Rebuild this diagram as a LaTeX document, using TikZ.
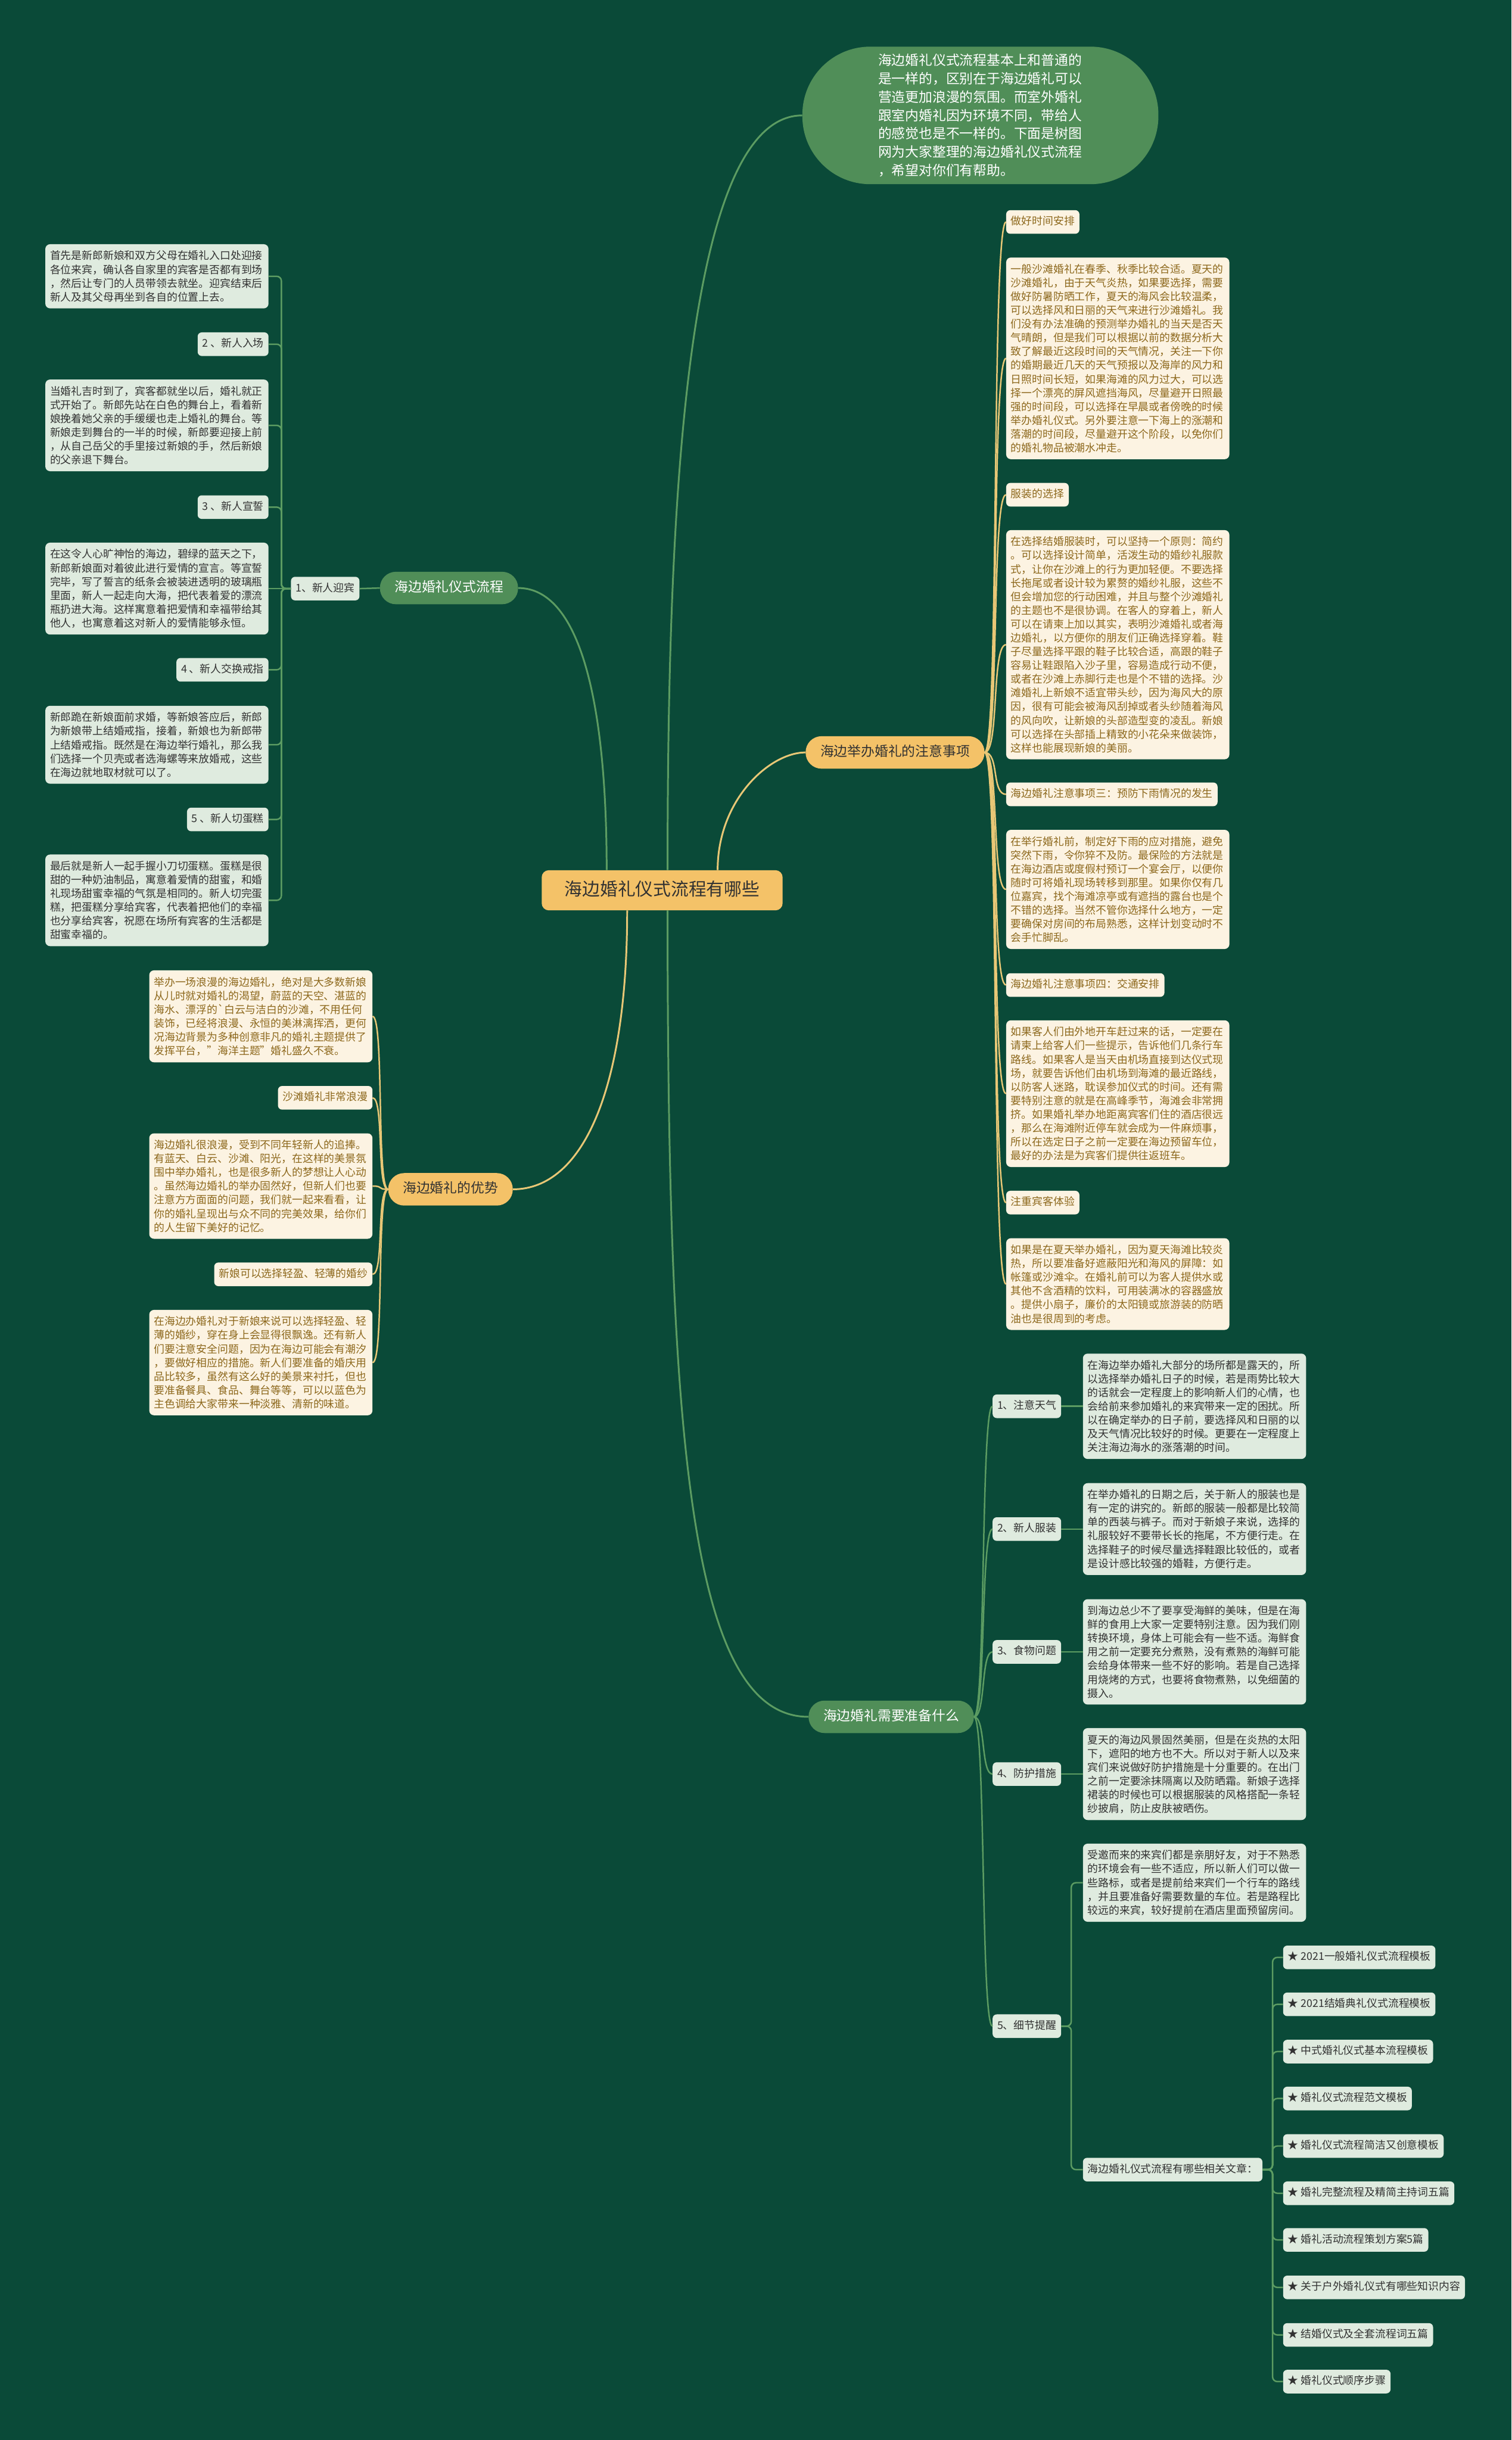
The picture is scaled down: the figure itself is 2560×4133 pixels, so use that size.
\documentclass[tikz,border=0pt]{standalone}
\usepackage{fontspec}
\setmainfont{Noto Sans CJK SC}
\usetikzlibrary{positioning}
\definecolor{bgc}{RGB}{10,74,56}
\definecolor{grn}{RGB}{80,142,88}
\definecolor{lgn}{RGB}{92,156,98}
\definecolor{gld}{RGB}{232,199,118}
\definecolor{orng}{RGB}{244,194,104}
\definecolor{lgrn}{RGB}{223,235,223}
\definecolor{crm}{RGB}{252,243,226}
\definecolor{brn}{RGB}{141,104,28}
\definecolor{dtxt}{RGB}{50,50,50}
\tikzstyle{rootnode} = [fill=orng,rounded corners=12pt,inner xsep=39pt,inner ysep=19pt,text height=24pt,text depth=6pt,font=\fontsize{30pt}{36pt}\selectfont,text=dtxt]
\tikzstyle{greennode} = [fill=grn,rounded corners=27pt,inner xsep=25pt,inner ysep=16pt,text height=18pt,text depth=5pt,font=\fontsize{23pt}{28pt}\selectfont,text=white]
\tikzstyle{orangenode} = [greennode,fill=orng,text=dtxt]
\tikzstyle{intro} = [fill=grn,rounded corners=115pt,minimum width=603pt,minimum height=233pt,text width=346pt,align=left,inner sep=0pt,font=\fontsize{23pt}{31pt}\selectfont,text=white]
\tikzstyle{glabel} = [fill=lgrn,rounded corners=7pt,inner xsep=8pt,inner ysep=11pt,text height=14pt,text depth=4pt,font=\fontsize{18pt}{23.3pt}\selectfont,text=dtxt]
\tikzstyle{clabel} = [glabel,fill=crm,text=brn]
\tikzstyle{gbox} = [fill=lgrn,rounded corners=8pt,inner xsep=8pt,inner ysep=11pt,text width=362pt,align=left,font=\fontsize{18pt}{23.3pt}\selectfont,text=dtxt]
\tikzstyle{cbox} = [gbox,fill=crm,text=brn]
\tikzstyle{glink} = [draw=lgn,line width=2.5pt,rounded corners=8pt]
\tikzstyle{ylink} = [draw=gld,line width=2.5pt]
\tikzstyle{mglink} = [draw=lgn,line width=3pt]
\tikzstyle{mylink} = [draw=gld,line width=3pt]

\begin{document}
\begin{tikzpicture}[x=1pt,y=-1pt]
\fill[bgc] (0,0) rectangle (2560,4133);
\useasboundingbox (0,0) rectangle (2560,4133);

\node[rootnode] (root) at (1121.5,1508) {海边婚礼仪式流程有哪些};
\node[intro] (intro) at (1660.5,195.5) {海边婚礼仪式流程基本上和普通的\\
是一样的，区别在于海边婚礼可以\\
营造更加浪漫的氛围。而室外婚礼\\
跟室内婚礼因为环境不同，带给人\\
的感觉也是不一样的。下面是树图\\
网为大家整理的海边婚礼仪式流程\\
，希望对你们有帮助。};
\node[greennode] (flow) at (760.5,996) {海边婚礼仪式流程};
\node[orangenode] (note) at (1516,1274.5) {海边举办婚礼的注意事项};
\node[orangenode] (adv) at (763,2014.5) {海边婚礼的优势};
\node[greennode] (prep) at (1509.5,2908) {海边婚礼需要准备什么};

\node[glabel,anchor=east] (s1) at (609,997) {1、新人迎宾};
\node[gbox,anchor=east] (a1) at (455,468) {首先是新郎新娘和双方父母在婚礼入口处迎接\\
各位来宾，确认各自家里的宾客是否都有到场\\
，然后让专门的人员带领去就坐。迎宾结束后\\
新人及其父母再坐到各自的位置上去。};
\node[glabel,anchor=east] (s2) at (455,583) {2 、新人入场};
\node[gbox,anchor=east] (a2) at (455,720.5) {当婚礼吉时到了，宾客都就坐以后，婚礼就正\\
式开始了。新郎先站在白色的舞台上，看着新\\
娘挽着她父亲的手缓缓也走上婚礼的舞台。等\\
新娘走到舞台的一半的时候，新郎要迎接上前\\
，从自己岳父的手里接过新娘的手，然后新娘\\
的父亲退下舞台。};
\node[glabel,anchor=east] (s3) at (455,859) {3 、新人宣誓};
\node[gbox,anchor=east] (a3) at (455,997) {在这令人心旷神怡的海边，碧绿的蓝天之下，\\
新郎新娘面对着彼此进行爱情的宣言。等宣誓\\
完毕，写了誓言的纸条会被装进透明的玻璃瓶\\
里面，新人一起走向大海，把代表着爱的漂流\\
瓶扔进大海。这样寓意着把爱情和幸福带给其\\
他人，也寓意着这对新人的爱情能够永恒。};
\node[glabel,anchor=east] (s4) at (455,1134.5) {4 、新人交换戒指};
\node[gbox,anchor=east] (a4) at (455,1261.5) {新郎跪在新娘面前求婚，等新娘答应后，新郎\\
为新娘带上结婚戒指，接着，新娘也为新郎带\\
上结婚戒指。既然是在海边举行婚礼，那么我\\
们选择一个贝壳或者选海螺等来放婚戒，这些\\
在海边就地取材就可以了。};
\node[glabel,anchor=east] (s5) at (455,1388) {5 、新人切蛋糕};
\node[gbox,anchor=east] (a5) at (455,1525) {最后就是新人一起手握小刀切蛋糕。蛋糕是很\\
甜的一种奶油制品，寓意着爱情的甜蜜，和婚\\
礼现场甜蜜幸福的气氛是相同的。新人切完蛋\\
糕，把蛋糕分享给宾客，代表着把他们的幸福\\
也分享给宾客，祝愿在场所有宾客的生活都是\\
甜蜜幸福的。};

\node[clabel,anchor=west] (n1) at (1704,376) {做好时间安排};
\node[cbox,anchor=west] (m1) at (1704,607) {一般沙滩婚礼在春季、秋季比较合适。夏天的\\
沙滩婚礼，由于天气炎热，如果要选择，需要\\
做好防暑防晒工作，夏天的海风会比较温柔，\\
可以选择风和日丽的天气来进行沙滩婚礼。我\\
们没有办法准确的预测举办婚礼的当天是否天\\
气晴朗，但是我们可以根据以前的数据分析大\\
致了解最近这段时间的天气情况，关注一下你\\
的婚期最近几天的天气预报以及海岸的风力和\\
日照时间长短，如果海滩的风力过大，可以选\\
择一个漂亮的屏风遮挡海风，尽量避开日照最\\
强的时间段，可以选择在早晨或者傍晚的时候\\
举办婚礼仪式。另外要注意一下海上的涨潮和\\
落潮的时间段，尽量避开这个阶段，以免你们\\
的婚礼物品被潮水冲走。};
\node[clabel,anchor=west] (n2) at (1704,838) {服装的选择};
\node[cbox,anchor=west] (m2) at (1704,1092) {在选择结婚服装时，可以坚持一个原则：简约\\
。可以选择设计简单，活泼生动的婚纱礼服款\\
式，让你在沙滩上的行为更加轻便。不要选择\\
长拖尾或者设计较为累赘的婚纱礼服，这些不\\
但会增加您的行动困难，并且与整个沙滩婚礼\\
的主题也不是很协调。在客人的穿着上，新人\\
可以在请柬上加以其实，表明沙滩婚礼或者海\\
边婚礼，以方便你的朋友们正确选择穿着。鞋\\
子尽量选择平跟的鞋子比较合适，高跟的鞋子\\
容易让鞋跟陷入沙子里，容易造成行动不便，\\
或者在沙滩上赤脚行走也是个不错的选择。沙\\
滩婚礼上新娘不适宜带头纱，因为海风大的原\\
因，很有可能会被海风刮掉或者头纱随着海风\\
的风向吹，让新娘的头部造型变的凌乱。新娘\\
可以选择在头部插上精致的小花朵来做装饰，\\
这样也能展现新娘的美丽。};
\node[clabel,anchor=west] (n3) at (1704,1345.5) {海边婚礼注意事项三：预防下雨情况的发生};
\node[cbox,anchor=west] (m3) at (1704,1506.5) {在举行婚礼前，制定好下雨的应对措施，避免\\
突然下雨，令你猝不及防。最保险的方法就是\\
在海边酒店或度假村预订一个宴会厅，以便你\\
随时可将婚礼现场转移到那里。如果你仅有几\\
位嘉宾，找个海滩凉亭或有遮挡的露台也是个\\
不错的选择。当然不管你选择什么地方，一定\\
要确保对房间的布局熟悉，这样计划变动时不\\
会手忙脚乱。};
\node[clabel,anchor=west] (n4) at (1704,1668.5) {海边婚礼注意事项四：交通安排};
\node[cbox,anchor=west] (m4) at (1704,1852.5) {如果客人们由外地开车赶过来的话，一定要在\\
请柬上给客人们一些提示，告诉他们几条行车\\
路线。如果客人是当天由机场直接到达仪式现\\
场，就要告诉他们由机场到海滩的最近路线，\\
以防客人迷路，耽误参加仪式的时间。还有需\\
要特别注意的就是在高峰季节，海滩会非常拥\\
挤。如果婚礼举办地距离宾客们住的酒店很远\\
，那么在海滩附近停车就会成为一件麻烦事，\\
所以在选定日子之前一定要在海边预留车位，\\
最好的办法是为宾客们提供往返班车。};
\node[clabel,anchor=west] (n5) at (1704,2037) {注重宾客体验};
\node[cbox,anchor=west] (m5) at (1704,2175) {如果是在夏天举办婚礼，因为夏天海滩比较炎\\
热，所以要准备好遮蔽阳光和海风的屏障：如\\
帐篷或沙滩伞。在婚礼前可以为客人提供水或\\
其他不含酒精的饮料，可用装满冰的容器盛放\\
。提供小扇子，廉价的太阳镜或旅游装的防晒\\
油也是很周到的考虑。};

\node[cbox,anchor=east] (b1) at (631,1721.5) {举办一场浪漫的海边婚礼，绝对是大多数新娘\\
从儿时就对婚礼的渴望，蔚蓝的天空、湛蓝的\\
海水、漂浮的\textasciigrave 白云与洁白的沙滩，不用任何\\
装饰，已经将浪漫、永恒的美淋漓挥洒，更何\\
况海边背景为多种创意非凡的婚礼主题提供了\\
发挥平台，"海洋主题"婚礼盛久不衰。};
\node[clabel,anchor=east] (c1) at (631,1859.5) {沙滩婚礼非常浪漫};
\node[cbox,anchor=east] (b2) at (631,2009) {海边婚礼很浪漫，受到不同年轻新人的追捧。\\
有蓝天、白云、沙滩、阳光，在这样的美景氛\\
围中举办婚礼，也是很多新人的梦想让人心动\\
。虽然海边婚礼的举办固然好，但新人们也要\\
注意方方面面的问题，我们就一起来看看，让\\
你的婚礼呈现出与众不同的完美效果，给你们\\
的人生留下美好的记忆。};
\node[clabel,anchor=east] (c2) at (631,2158.5) {新娘可以选择轻盈、轻薄的婚纱};
\node[cbox,anchor=east] (b3) at (631,2308) {在海边办婚礼对于新娘来说可以选择轻盈、轻\\
薄的婚纱，穿在身上会显得很飘逸。还有新人\\
们要注意安全问题，因为在海边可能会有潮汐\\
，要做好相应的措施。新人们要准备的婚庆用\\
品比较多，虽然有这么好的美景来衬托，但也\\
要准备餐具、食品、舞台等等，可以以蓝色为\\
主色调给大家带来一种淡雅、清新的味道。};

\node[glabel,anchor=west] (d1) at (1681,2382) {1、注意天气};
\node[gbox,anchor=west] (p1) at (1834,2382) {在海边举办婚礼大部分的场所都是露天的，所\\
以选择举办婚礼日子的时候，若是雨势比较大\\
的话就会一定程度上的影响新人们的心情，也\\
会给前来参加婚礼的来宾带来一定的困扰。所\\
以在确定举办的日子前，要选择风和日丽的以\\
及天气情况比较好的时候。更要在一定程度上\\
关注海边海水的涨落潮的时间。};
\node[glabel,anchor=west] (d2) at (1681,2590) {2、新人服装};
\node[gbox,anchor=west] (p2) at (1834,2590) {在举办婚礼的日期之后，关于新人的服装也是\\
有一定的讲究的。新郎的服装一般都是比较简\\
单的西装与裤子。而对于新娘子来说，选择的\\
礼服较好不要带长长的拖尾，不方便行走。在\\
选择鞋子的时候尽量选择鞋跟比较低的，或者\\
是设计感比较强的婚鞋，方便行走。};
\node[glabel,anchor=west] (d3) at (1681,2798) {3、食物问题};
\node[gbox,anchor=west] (p3) at (1834,2798) {到海边总少不了要享受海鲜的美味，但是在海\\
鲜的食用上大家一定要特别注意。因为我们刚\\
转换环境，身体上可能会有一些不适。海鲜食\\
用之前一定要充分煮熟，没有煮熟的海鲜可能\\
会给身体带来一些不好的影响。若是自己选择\\
用烧烤的方式，也要将食物煮熟，以免细菌的\\
摄入。};
\node[glabel,anchor=west] (d4) at (1681,3005) {4、防护措施};
\node[gbox,anchor=west] (p4) at (1834,3005) {夏天的海边风景固然美丽，但是在炎热的太阳\\
下，遮阳的地方也不大。所以对于新人以及来\\
宾们来说做好防护措施是十分重要的。在出门\\
之前一定要涂抹隔离以及防晒霜。新娘子选择\\
裙装的时候也可以根据服装的风格搭配一条轻\\
纱披肩，防止皮肤被晒伤。};
\node[glabel,anchor=west] (d5) at (1681,3432) {5、细节提醒};
\node[gbox,anchor=west] (p5) at (1834,3189) {受邀而来的来宾们都是亲朋好友，对于不熟悉\\
的环境会有一些不适应，所以新人们可以做一\\
些路标，或者是提前给来宾们一个行车的路线\\
，并且要准备好需要数量的车位。若是路程比\\
较远的来宾，较好提前在酒店里面预留房间。};
\node[glabel,anchor=west] (rel) at (1834,3675) {海边婚礼仪式流程有哪些相关文章：};
\node[glabel,anchor=west] (r1) at (2173,3315.5) {★ 2021一般婚礼仪式流程模板};
\node[glabel,anchor=west] (r2) at (2173,3395) {★ 2021结婚典礼仪式流程模板};
\node[glabel,anchor=west] (r3) at (2173,3475) {★ 中式婚礼仪式基本流程模板};
\node[glabel,anchor=west] (r4) at (2173,3554.5) {★ 婚礼仪式流程范文模板};
\node[glabel,anchor=west] (r5) at (2173,3635) {★ 婚礼仪式流程简洁又创意模板};
\node[glabel,anchor=west] (r6) at (2173,3715) {★ 婚礼完整流程及精简主持词五篇};
\node[glabel,anchor=west] (r7) at (2173,3794) {★ 婚礼活动流程策划方案5篇};
\node[glabel,anchor=west] (r8) at (2173,3874.5) {★ 关于户外婚礼仪式有哪些知识内容};
\node[glabel,anchor=west] (r9) at (2173,3955) {★ 结婚仪式及全套流程词五篇};
\node[glabel,anchor=west] (r10) at (2173,4034) {★ 婚礼仪式顺序步骤};

\draw[mglink] (root.75) .. controls +(0,-600) and +(-200,0) .. (intro.west);
\draw[mylink] (root.20) .. controls +(0,-120) and +(-60,0) .. (note.west);
\draw[mglink] (root.-75) .. controls +(0,900) and +(-200,0) .. (prep.west);
\draw[mglink] (root.160) .. controls +(0,-300) and +(100,0) .. (flow.east);
\draw[mylink] (root.-150) .. controls +(0,300) and +(120,0) .. (adv.east);

\draw[glink] (flow.west) -- (s1.east);
\draw[glink] (s1.west) -- ++(-16,0) |- (a1.east);
\draw[glink] (s1.west) -- ++(-16,0) |- (s2.east);
\draw[glink] (s1.west) -- ++(-16,0) |- (a2.east);
\draw[glink] (s1.west) -- ++(-16,0) |- (s3.east);
\draw[glink] (s1.west) -- (a3.east);
\draw[glink] (s1.west) -- ++(-16,0) |- (s4.east);
\draw[glink] (s1.west) -- ++(-16,0) |- (a4.east);
\draw[glink] (s1.west) -- ++(-16,0) |- (s5.east);
\draw[glink] (s1.west) -- ++(-16,0) |- (a5.east);

\draw[ylink] (note.east) .. controls +(25,0) and +(-25,0) .. (n1.west);
\draw[ylink] (note.east) .. controls +(25,0) and +(-25,0) .. (m1.west);
\draw[ylink] (note.east) .. controls +(25,0) and +(-25,0) .. (n2.west);
\draw[ylink] (note.east) .. controls +(25,0) and +(-25,0) .. (m2.west);
\draw[ylink] (note.east) .. controls +(25,0) and +(-25,0) .. (n3.west);
\draw[ylink] (note.east) .. controls +(25,0) and +(-25,0) .. (m3.west);
\draw[ylink] (note.east) .. controls +(25,0) and +(-25,0) .. (n4.west);
\draw[ylink] (note.east) .. controls +(25,0) and +(-25,0) .. (m4.west);
\draw[ylink] (note.east) .. controls +(25,0) and +(-25,0) .. (n5.west);
\draw[ylink] (note.east) .. controls +(25,0) and +(-25,0) .. (m5.west);

\draw[ylink] (adv.west) .. controls +(-20,0) and +(20,0) .. (b1.east);
\draw[ylink] (adv.west) .. controls +(-20,0) and +(20,0) .. (c1.east);
\draw[ylink] (adv.west) .. controls +(-20,0) and +(20,0) .. (b2.east);
\draw[ylink] (adv.west) .. controls +(-20,0) and +(20,0) .. (c2.east);
\draw[ylink] (adv.west) .. controls +(-20,0) and +(20,0) .. (b3.east);

\draw[glink] (prep.east) .. controls +(20,0) and +(-20,0) .. (d1.west);
\draw[glink] (prep.east) .. controls +(20,0) and +(-20,0) .. (d2.west);
\draw[glink] (prep.east) .. controls +(20,0) and +(-20,0) .. (d3.west);
\draw[glink] (prep.east) .. controls +(20,0) and +(-20,0) .. (d4.west);
\draw[glink] (prep.east) .. controls +(20,0) and +(-20,0) .. (d5.west);
\draw[glink] (d1.east) -- (p1.west);
\draw[glink] (d2.east) -- (p2.west);
\draw[glink] (d3.east) -- (p3.west);
\draw[glink] (d4.east) -- (p4.west);
\draw[glink] (d5.east) -- ++(17,0) |- (p5.west);
\draw[glink] (d5.east) -- ++(17,0) |- (rel.west);
\draw[glink] (rel.east) -- ++(17,0) |- (r1.west);
\draw[glink] (rel.east) -- ++(17,0) |- (r2.west);
\draw[glink] (rel.east) -- ++(17,0) |- (r3.west);
\draw[glink] (rel.east) -- ++(17,0) |- (r4.west);
\draw[glink] (rel.east) -- ++(17,0) |- (r5.west);
\draw[glink] (rel.east) -- ++(17,0) |- (r6.west);
\draw[glink] (rel.east) -- ++(17,0) |- (r7.west);
\draw[glink] (rel.east) -- ++(17,0) |- (r8.west);
\draw[glink] (rel.east) -- ++(17,0) |- (r9.west);
\draw[glink] (rel.east) -- ++(17,0) |- (r10.west);
\end{tikzpicture}
\end{document}
